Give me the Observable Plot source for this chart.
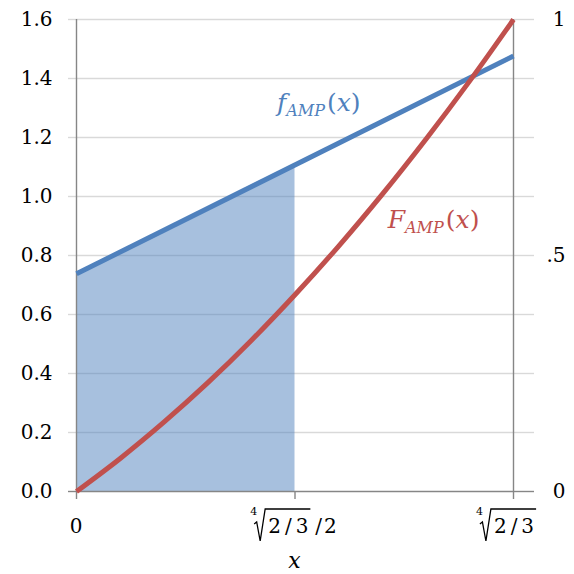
<!DOCTYPE html>
<html><head><meta charset="utf-8">
<script src="https://cdn.jsdelivr.net/npm/d3@7"></script>
<script src="https://cdn.jsdelivr.net/npm/@observablehq/plot@0.6"></script>
<style>
body{margin:0;background:#fff}
#chart svg{font-family:"DejaVu Serif",serif}
</style>
</head><body><div id="chart"></div>
<script>
// x positions (xMax = fourth root of 2/3)
const xPts = [0, 0.0904, 0.1807, 0.2711, 0.3614, 0.4518, 0.5422, 0.6325, 0.7229, 0.8132, 0.9036];
// F_AMP(x) on the left-axis scale (right axis: 1 ↔ 1.6)
const FVals = [0, 0.112, 0.235, 0.368, 0.512, 0.667, 0.832, 1.008, 1.195, 1.392, 1.6];
// f_AMP(x) straight line
const fX = [0, 0.9036];
const fY = [0.738, 1.476];
// shaded area under f from 0 to xMax/2
const areaX = [0, 0.4518];
const areaY = [0.738, 1.107];
const leftTicks = [0, 0.2, 0.4, 0.6, 0.8, 1.0, 1.2, 1.4, 1.6];
const rightTickVals = [0, 0.8, 1.6];
const rightTickLabels = ["0", ".5", "1"];
const xTickVals = [0, 0.4518, 0.9036];

const xMax = xTickVals[2];
const fData = fX.map((x, i) => ({x, y: fY[i]}));
const FData = xPts.map((x, i) => ({x, y: FVals[i]}));
const areaData = areaX.map((x, i) => ({x, y: areaY[i]}));

const AXIS = "#868686", GRID = "#d9d9d9";
const BLUE = "#4F81BD", RED = "#C0504D";

const plot = Plot.plot({
  width: 574, height: 574,
  marginLeft: 76, marginRight: 61, marginTop: 19, marginBottom: 83,
  x: {domain: [0, xMax]},
  y: {domain: [0, 1.6]},
  style: {fontFamily: "DejaVu Serif", fontSize: "20px", color: "#000", background: "#fff", overflow: "visible"},
  marks: [
    Plot.gridY(leftTicks.slice(1), {stroke: GRID, strokeOpacity: 1, strokeWidth: 1.4}),
    Plot.axisY(leftTicks.slice(1), {anchor: "left", tickSize: 8, stroke: GRID, strokeOpacity: 1, strokeWidth: 1.4, tickFormat: () => "", label: null}),
    Plot.axisY([0], {anchor: "left", tickSize: 8, stroke: AXIS, strokeWidth: 1.4, tickFormat: () => "", label: null}),
    Plot.axisY(leftTicks, {anchor: "left", tickSize: 0, tickPadding: 24, tickFormat: d3.format(".1f"), label: null, fontSize: 20}),
    Plot.axisY(leftTicks.slice(1), {anchor: "right", tickSize: 20, stroke: GRID, strokeOpacity: 1, strokeWidth: 1.4, tickFormat: () => "", label: null}),
    Plot.axisY([0], {anchor: "right", tickSize: 20, stroke: AXIS, strokeWidth: 1.4, tickFormat: () => "", label: null}),
    Plot.axisY(rightTickVals, {anchor: "right", tickSize: 0, tickPadding: 52, textAnchor: "end", tickFormat: (d) => rightTickLabels[rightTickVals.indexOf(d)], label: null, fontSize: 20}),
    Plot.axisX(xTickVals, {anchor: "bottom", tickSize: 8, stroke: AXIS, strokeWidth: 1.4, tickFormat: () => "", label: null}),
    Plot.areaY(areaData, {x: "x", y: "y", fill: BLUE, fillOpacity: 0.5}),
    Plot.ruleX([0, xMax], {stroke: AXIS, strokeWidth: 1.4}),
    Plot.ruleY([0], {stroke: AXIS, strokeWidth: 1.4}),
    Plot.line(fData, {x: "x", y: "y", stroke: BLUE, strokeWidth: 5, strokeLinecap: "butt"}),
    Plot.line(FData, {x: "x", y: "y", stroke: RED, strokeWidth: 5, curve: "catmull-rom", strokeLinecap: "butt"})
  ]
});
document.getElementById("chart").appendChild(plot);

const sx = plot.scale("x"), sy = plot.scale("y");
const svg = d3.select(plot);
const g = svg.append("g").attr("font-family", "DejaVu Serif").attr("text-anchor", "start");

function funcLabel(name, color, x, y) {
  const t = g.append("text").attr("x", x).attr("y", y).attr("fill", color).attr("font-size", 25);
  t.append("tspan").attr("font-style", "italic").text(name);
  t.append("tspan").attr("font-style", "italic").attr("font-size", 16).attr("dy", 5).text("AMP");
  t.append("tspan").attr("dy", -5).attr("dx", 2).text("(");
  t.append("tspan").attr("font-style", "italic").text("x");
  t.append("tspan").text(")");
}
funcLabel("f", BLUE, sx.apply(0.4156), sy.apply(1.288));
funcLabel("F", RED, sx.apply(0.6445), sy.apply(0.892));

// x tick labels
const baseY = sy.apply(0) + 42;
function rootLabel(cx, suffix) {
  const grp = g.append("g");
  const four = grp.append("text").attr("y", baseY - 18).attr("font-size", 11).text("4");
  const a = grp.append("text").attr("y", baseY).attr("font-size", 20).attr("letter-spacing", 4).text("2/3");
  const s = suffix ? grp.append("text").attr("y", baseY).attr("font-size", 20).attr("letter-spacing", 2).text(suffix) : null;
  const w4 = four.node().getComputedTextLength();
  const wa = a.node().getComputedTextLength() - 4;
  const rad = 11;
  const ws = s ? s.node().getComputedTextLength() + 7 : 0;
  const total = w4 + rad + wa + ws;
  const x0 = cx - total / 2;
  four.attr("x", x0);
  const rx = x0 + w4 - 3;
  a.attr("x", x0 + w4 + rad);
  if (s) s.attr("x", x0 + w4 + rad + wa + 7);
  const top = baseY - 24;
  const path = `M${rx},${baseY - 9} L${rx + 2.5},${baseY - 11} L${rx + 6},${baseY + 8} L${rx + 11},${top} H${x0 + w4 + rad + wa + 2}`;
  grp.append("path").attr("d", path).attr("fill", "none").attr("stroke", "#000").attr("stroke-width", 1.3).attr("stroke-linejoin", "miter");
}
g.append("text").attr("x", sx.apply(0)).attr("y", baseY).attr("text-anchor", "middle").attr("font-size", 20).text("0");
rootLabel(sx.apply(xTickVals[1]), "/2");
rootLabel(sx.apply(xTickVals[2]) - 8, null);
g.append("text").attr("x", sx.apply(xTickVals[1])).attr("y", sy.apply(0) + 77).attr("text-anchor", "middle")
  .attr("font-size", 22).attr("font-style", "italic").text("x");
</script>
</body></html>
